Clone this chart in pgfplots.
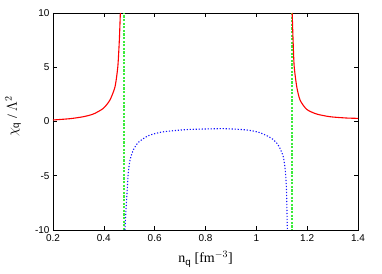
\documentclass[border=0pt]{standalone}
\usepackage{fontspec}
\setmainfont{Liberation Sans}
\newfontfamily\seriffont{Liberation Serif}
\usepackage{pgfplots}
\pgfplotsset{compat=1.18}
\definecolor{gpred}{RGB}{255,0,0}
\definecolor{gpgreen}{RGB}{60,235,60}
\definecolor{gpblue}{RGB}{20,20,255}
\begin{document}
\begin{tikzpicture}
\useasboundingbox (0,0) rectangle (382bp,274bp);
\begin{axis}[
  at={(53bp,44bp)}, anchor=south west,
  scale only axis, width=305bp, height=217bp,
  xmin=0.2, xmax=1.4, ymin=-10, ymax=10,
  xtick={0.2,0.4,0.6,0.8,1,1.2,1.4},
  xticklabels={0.2,0.4,0.6,0.8,1,1.2,1.4},
  ytick={-10,-5,0,5,10},
  yticklabels={-10,-5,0,5,10},
  tick align=inside, major tick length=4bp,
  tick style={black, line width=0.6bp},
  axis line style={black, line width=0.8bp},
  ticklabel style={font=\fontsize{10}{12}\selectfont},
  xticklabel style={yshift=-1bp},
  xlabel={\seriffont\fontsize{14}{16}\selectfont n$_{\mathrm{q}}$ [fm$^{-3}$]},
  xlabel style={at={(rel axis cs:0.5,-0.152)}, anchor=base},
  ylabel={\seriffont\fontsize{14}{16}\selectfont $\chi_{\mathrm{q}}$ / $\Lambda^2$},
  ylabel style={at={(rel axis cs:-0.131,0.523)}, anchor=center},
  clip=true,
]
% green dashed verticals
\addplot[gpgreen, line width=1.6bp, dash pattern=on 2.2bp off 1.4bp] coordinates {(0.479,-10) (0.479,10)};
\addplot[gpgreen, line width=1.6bp, dash pattern=on 2.2bp off 1.4bp] coordinates {(1.1395,10) (1.1395,-10)};
% red: left branch
\addplot[gpred, line width=1.1bp, smooth, tension=0.4] coordinates {
(0.2,0.14) (0.267,0.26) (0.319,0.44) (0.359,0.69) (0.398,1.21) (0.424,1.98)
(0.444,3.2) (0.455,5.05) (0.461,7.5) (0.465,10.0)
};
% red: right branch
\addplot[gpred, line width=1.1bp, smooth, tension=0.4] coordinates {
(1.141,10.0) (1.145,7.2) (1.149,5.05) (1.159,3.2) (1.172,1.98) (1.198,1.12)
(1.237,0.69) (1.29,0.44) (1.355,0.32) (1.4,0.29)
};
% blue dotted
\addplot[gpblue, line width=1.1bp, dash pattern=on 1.2bp off 1.8bp, smooth, tension=0.4] coordinates {
(0.483,-10.0) (0.487,-8.16) (0.492,-6.3) (0.496,-4.77) (0.503,-3.55) (0.516,-2.63)
(0.536,-1.92) (0.575,-1.31) (0.628,-0.97) (0.706,-0.78) (0.752,-0.72)
(0.87,-0.66) (0.962,-0.78) (1.014,-1.03) (1.06,-1.55) (1.086,-2.17)
(1.106,-3.24) (1.115,-4.77) (1.119,-6.6) (1.122,-10.0)
};
\end{axis}
\end{tikzpicture}
\end{document}
